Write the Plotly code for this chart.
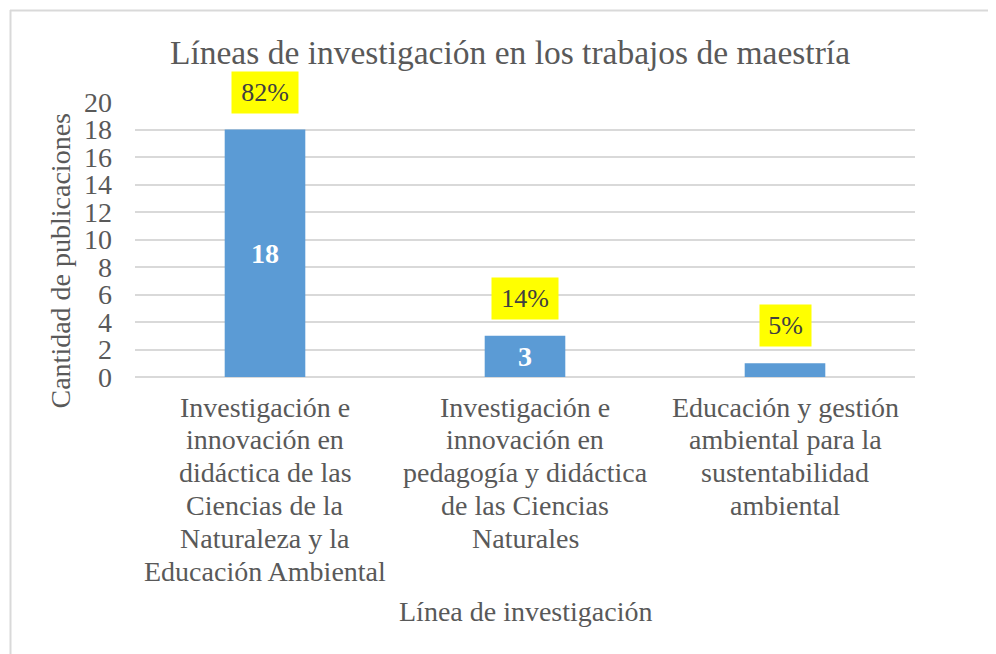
import plotly.graph_objects as go

categories = [
    "Investigación e innovación en didáctica de las Ciencias de la Naturaleza y la Educación Ambiental",
    "Investigación e innovación en pedagogía y didáctica de las Ciencias Naturales",
    "Educación y gestión ambiental para la sustentabilidad ambiental",
]
tick_lines = [
    ["Investigación e", "innovación en", "didáctica de las", "Ciencias de la", "Naturaleza y la", "Educación Ambiental"],
    ["Investigación e", "innovación en", "pedagogía y didáctica", "de las Ciencias", "Naturales"],
    ["Educación y gestión", "ambiental para la", "sustentabilidad", "ambiental"],
]
values = [18, 3, 1]
percent_labels = ["82%", "14%", "5%"]
y_ticks = [0, 2, 4, 6, 8, 10, 12, 14, 16, 18, 20]

FONT = "Liberation Serif, Times New Roman, serif"
GREY = "#595959"

W, H = 988, 646
L, R, T, B = 127, 81, 94, 277
pw, ph = W - L - R, H - T - B

def px_x(px):
    return (px - L) / pw

def px_y(py):
    return (H - B - py) / ph

fig = go.Figure()
fig.add_trace(go.Bar(
    x=categories, y=values,
    marker=dict(color="#5B9BD5", line=dict(width=0)),
    text=[str(v) for v in values],
    textposition="inside", insidetextanchor="middle",
    textfont=dict(family=FONT, size=28, color="white", weight="bold"),
    width=0.31,
))

# percentage labels in yellow boxes
box_widths = [62, 62, 47]
for c, v, p, bw in zip(categories, values, percent_labels, box_widths):
    fig.add_annotation(
        x=c, y=v, xref="x", yref="y", text=p, showarrow=False,
        yanchor="bottom", yshift=16, bgcolor="#FFFF00",
        font=dict(family=FONT, size=26, color="#404040"),
        width=bw, height=37, borderpad=2,
    )

# category labels, line by line
for c, lines in zip(categories, tick_lines):
    for i, ln in enumerate(lines):
        fig.add_annotation(
            x=c, y=0, xref="x", yref="y", text=ln, showarrow=False,
            yanchor="middle", yshift=-30 - i * 32.9,
            font=dict(family=FONT, size=28, color=GREY),
        )

# axis titles
fig.add_annotation(
    x=0.5, y=0, xref="paper", yref="paper", text="Línea de investigación",
    showarrow=False, yanchor="middle", yshift=-234,
    font=dict(family=FONT, size=28, color=GREY),
)
fig.add_annotation(
    x=0, y=0.5, xref="paper", yref="paper", text="Cantidad de publicaciones",
    showarrow=False, textangle=-90, xanchor="center", yanchor="middle",
    xshift=-75, yshift=-22,
    font=dict(family=FONT, size=28, color=GREY),
)

# chart border (top and left visible)
fig.add_shape(type="line", xref="paper", yref="paper",
              x0=px_x(2), x1=px_x(1000), y0=px_y(2.5), y1=px_y(2.5),
              line=dict(color="#D9D9D9", width=2))
fig.add_shape(type="line", xref="paper", yref="paper",
              x0=px_x(2.5), x1=px_x(2.5), y0=px_y(2), y1=px_y(660),
              line=dict(color="#D9D9D9", width=2))

fig.update_layout(
    width=W, height=H,
    margin=dict(l=L, r=R, t=T, b=B, autoexpand=False),
    paper_bgcolor="white", plot_bgcolor="white",
    showlegend=False,
    uniformtext=dict(minsize=28, mode="hide"),
    title=dict(
        text="Líneas de investigación en los trabajos de maestría",
        x=502 / W, xanchor="center", xref="container",
        y=1 - 44 / H, yanchor="middle", yref="container",
        font=dict(family=FONT, size=33.5, color=GREY),
    ),
    xaxis=dict(showticklabels=False, showgrid=False, zeroline=False,
               showline=False, ticks=""),
    yaxis=dict(
        range=[0, 20], tickvals=y_ticks, showgrid=True,
        gridcolor="#D9D9D9", gridwidth=1.5,
        zeroline=True, zerolinecolor="#D9D9D9", zerolinewidth=1.5,
        showline=False, ticks="", ticklabelstandoff=22,
        tickfont=dict(family=FONT, size=28, color=GREY),
    ),
)

fig.write_html("out.html")
